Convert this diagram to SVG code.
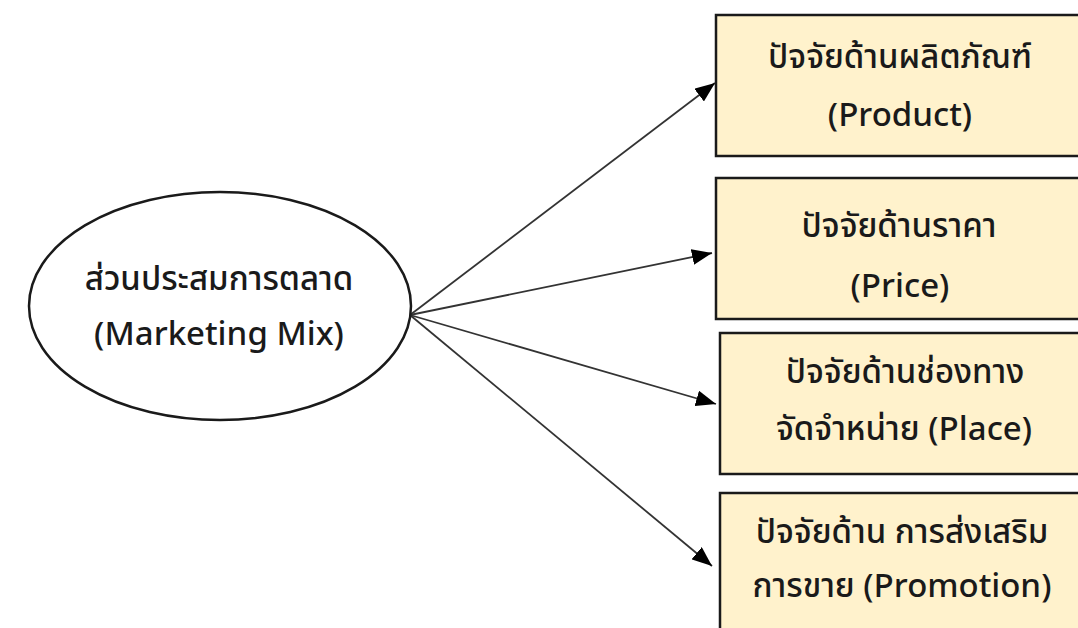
<svg xmlns="http://www.w3.org/2000/svg" width="1078" height="628" viewBox="0 0 1078 628">
  <defs>
    <style>
      .lbl { font-family: "Noto Sans Thai", "Leelawadee UI", Tahoma, "Noto Sans", "DejaVu Sans", sans-serif; font-size: 33px; font-weight: 500; fill: #1a1a1a; text-anchor: middle; }
      .box { fill: #FFF2CC; stroke: #1a1a1a; stroke-width: 2.5; }
      .hub { fill: #ffffff; stroke: #1a1a1a; stroke-width: 2.5; }
      .link { stroke: #333333; stroke-width: 1.8; fill: none; marker-end: url(#head); }
    </style>
    <marker id="head" viewBox="0 0 20 16" refX="20" refY="8" markerWidth="20" markerHeight="16" markerUnits="userSpaceOnUse" orient="auto">
      <path d="M0,0 L20,8 L0,16 Z" fill="#000000"/>
    </marker>
  </defs>

  <rect width="1078" height="628" fill="#ffffff"/>

  <!-- connectors from the marketing-mix hub to each factor -->
  <g id="connectors">
    <line class="link" x1="410" y1="315" x2="715" y2="83"/>
    <line class="link" x1="410" y1="315" x2="712" y2="253"/>
    <line class="link" x1="410" y1="315" x2="716" y2="404"/>
    <line class="link" x1="410" y1="315" x2="712" y2="566"/>
  </g>

  <g id="marketing-mix">
    <ellipse class="hub" cx="220" cy="306" rx="191" ry="114"/>
    <text class="lbl" x="219" y="290">ส่วนประสมการตลาด</text>
    <text class="lbl" x="219" y="345">(Marketing Mix)</text>
  </g>

  <g id="product">
    <rect class="box" x="716" y="15" width="380" height="141"/>
    <text class="lbl" x="900" y="68">ปัจจัยด้านผลิตภัณฑ์</text>
    <text class="lbl" x="900" y="126">(Product)</text>
  </g>

  <g id="price">
    <rect class="box" x="716" y="178" width="380" height="141"/>
    <text class="lbl" x="899" y="237">ปัจจัยด้านราคา</text>
    <text class="lbl" x="900" y="297">(Price)</text>
  </g>

  <g id="place">
    <rect class="box" x="720" y="333" width="380" height="141"/>
    <text class="lbl" x="905" y="383">ปัจจัยด้านช่องทาง</text>
    <text class="lbl" x="904" y="440">จัดจำหน่าย (Place)</text>
  </g>

  <g id="promotion">
    <rect class="box" x="720" y="493" width="380" height="160"/>
    <text class="lbl" x="902" y="543">ปัจจัยด้าน การส่งเสริม</text>
    <text class="lbl" x="902" y="597">การขาย (Promotion)</text>
  </g>
</svg>
